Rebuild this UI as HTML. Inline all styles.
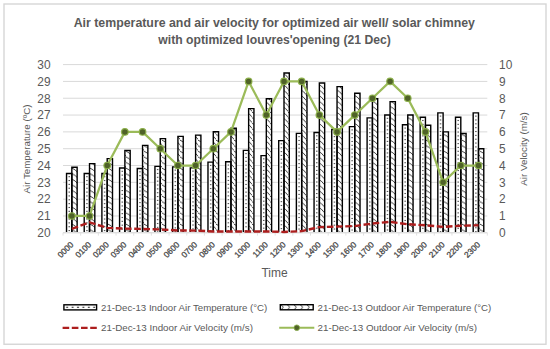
<!DOCTYPE html>
<html><head><meta charset="utf-8"><style>
html,body{margin:0;padding:0;background:#fff;}
body{width:550px;height:349px;overflow:hidden;font-family:"Liberation Sans", sans-serif;}
svg{display:block;}
</style></head><body>
<svg width="550" height="349" viewBox="0 0 550 349" font-family='"Liberation Sans", sans-serif'><defs>
<pattern id="pin" patternUnits="userSpaceOnUse" x="0" y="0" width="17.68" height="3.85">
<rect width="17.68" height="3.85" fill="#fff"/>
</pattern>
<pattern id="pout" patternUnits="userSpaceOnUse" x="0" y="0" width="6" height="5.6">
<rect width="6" height="5.6" fill="#fff"/>
<path d="M-0.5,-0.2 Q3.5,1.2 6.5,5.4 M-0.5,5.4 Q3.5,6.8 6.5,11" stroke="#1a1a1a" stroke-width="0.85" fill="none"/>
</pattern>
<pattern id="plin" patternUnits="userSpaceOnUse" x="64.5" y="304" width="5.4" height="7">
<rect width="5.4" height="7" fill="#fff"/>
<rect x="1.7" y="2.7" width="2" height="1.3" fill="#555"/>
</pattern>
<pattern id="plout" patternUnits="userSpaceOnUse" x="280" y="304" width="6.5" height="7">
<rect width="6.5" height="7" fill="#fff"/>
<path d="M1,1 Q5,3.3 1,5.6" stroke="#222" stroke-width="0.9" fill="none"/>
</pattern>
</defs><rect x="4" y="4" width="542" height="340.25" fill="#fff" stroke="#d6d6d6" stroke-width="1.4"/>
<text x="274.3" y="27" text-anchor="middle" font-weight="bold" font-size="12.35" fill="#595959">Air temperature and air velocity for optimized air well/ solar chimney</text>
<text x="274.6" y="44.3" text-anchor="middle" font-weight="bold" font-size="12.2" fill="#595959">with optimized louvres'opening (21 Dec)</text>
<line x1="63.0" y1="215.98" x2="487.32" y2="215.98" stroke="#d9d9d9" stroke-width="1"/>
<line x1="63.0" y1="199.16" x2="487.32" y2="199.16" stroke="#d9d9d9" stroke-width="1"/>
<line x1="63.0" y1="182.34" x2="487.32" y2="182.34" stroke="#d9d9d9" stroke-width="1"/>
<line x1="63.0" y1="165.52" x2="487.32" y2="165.52" stroke="#d9d9d9" stroke-width="1"/>
<line x1="63.0" y1="148.70" x2="487.32" y2="148.70" stroke="#d9d9d9" stroke-width="1"/>
<line x1="63.0" y1="131.88" x2="487.32" y2="131.88" stroke="#d9d9d9" stroke-width="1"/>
<line x1="63.0" y1="115.06" x2="487.32" y2="115.06" stroke="#d9d9d9" stroke-width="1"/>
<line x1="63.0" y1="98.24" x2="487.32" y2="98.24" stroke="#d9d9d9" stroke-width="1"/>
<line x1="63.0" y1="81.42" x2="487.32" y2="81.42" stroke="#d9d9d9" stroke-width="1"/>
<line x1="63.0" y1="64.60" x2="487.32" y2="64.60" stroke="#d9d9d9" stroke-width="1"/>
<rect x="66.54" y="173.43" width="5.3" height="58.57" fill="url(#pin)"/>
<rect x="71.84" y="167.20" width="5.3" height="64.80" fill="url(#pout)"/>
<path d="M66.54,232.00V173.43H71.84V232.00" fill="none" stroke="#000" stroke-width="1.4"/>
<path d="M71.84,232.00V167.20H77.14V232.00" fill="none" stroke="#000" stroke-width="1.4"/>
<rect x="84.22" y="173.43" width="5.3" height="58.57" fill="url(#pin)"/>
<rect x="89.52" y="163.67" width="5.3" height="68.33" fill="url(#pout)"/>
<path d="M84.22,232.00V173.43H89.52V232.00" fill="none" stroke="#000" stroke-width="1.4"/>
<path d="M89.52,232.00V163.67H94.82V232.00" fill="none" stroke="#000" stroke-width="1.4"/>
<rect x="101.90" y="173.43" width="5.3" height="58.57" fill="url(#pin)"/>
<rect x="107.20" y="158.62" width="5.3" height="73.38" fill="url(#pout)"/>
<path d="M101.90,232.00V173.43H107.20V232.00" fill="none" stroke="#000" stroke-width="1.4"/>
<path d="M107.20,232.00V158.62H112.50V232.00" fill="none" stroke="#000" stroke-width="1.4"/>
<rect x="119.58" y="168.04" width="5.3" height="63.96" fill="url(#pin)"/>
<rect x="124.88" y="150.55" width="5.3" height="81.45" fill="url(#pout)"/>
<path d="M119.58,232.00V168.04H124.88V232.00" fill="none" stroke="#000" stroke-width="1.4"/>
<path d="M124.88,232.00V150.55H130.18V232.00" fill="none" stroke="#000" stroke-width="1.4"/>
<rect x="137.26" y="168.55" width="5.3" height="63.45" fill="url(#pin)"/>
<rect x="142.56" y="145.34" width="5.3" height="86.66" fill="url(#pout)"/>
<path d="M137.26,232.00V168.55H142.56V232.00" fill="none" stroke="#000" stroke-width="1.4"/>
<path d="M142.56,232.00V145.34H147.86V232.00" fill="none" stroke="#000" stroke-width="1.4"/>
<rect x="154.94" y="166.36" width="5.3" height="65.64" fill="url(#pin)"/>
<rect x="160.24" y="138.61" width="5.3" height="93.39" fill="url(#pout)"/>
<path d="M154.94,232.00V166.36H160.24V232.00" fill="none" stroke="#000" stroke-width="1.4"/>
<path d="M160.24,232.00V138.61H165.54V232.00" fill="none" stroke="#000" stroke-width="1.4"/>
<rect x="172.62" y="166.87" width="5.3" height="65.13" fill="url(#pin)"/>
<rect x="177.92" y="136.42" width="5.3" height="95.58" fill="url(#pout)"/>
<path d="M172.62,232.00V166.87H177.92V232.00" fill="none" stroke="#000" stroke-width="1.4"/>
<path d="M177.92,232.00V136.42H183.22V232.00" fill="none" stroke="#000" stroke-width="1.4"/>
<rect x="190.30" y="167.87" width="5.3" height="64.13" fill="url(#pin)"/>
<rect x="195.60" y="135.08" width="5.3" height="96.92" fill="url(#pout)"/>
<path d="M190.30,232.00V167.87H195.60V232.00" fill="none" stroke="#000" stroke-width="1.4"/>
<path d="M195.60,232.00V135.08H200.90V232.00" fill="none" stroke="#000" stroke-width="1.4"/>
<rect x="207.98" y="162.16" width="5.3" height="69.84" fill="url(#pin)"/>
<rect x="213.28" y="131.71" width="5.3" height="100.29" fill="url(#pout)"/>
<path d="M207.98,232.00V162.16H213.28V232.00" fill="none" stroke="#000" stroke-width="1.4"/>
<path d="M213.28,232.00V131.71H218.58V232.00" fill="none" stroke="#000" stroke-width="1.4"/>
<rect x="225.66" y="161.82" width="5.3" height="70.18" fill="url(#pin)"/>
<rect x="230.96" y="128.18" width="5.3" height="103.82" fill="url(#pout)"/>
<path d="M225.66,232.00V161.82H230.96V232.00" fill="none" stroke="#000" stroke-width="1.4"/>
<path d="M230.96,232.00V128.18H236.26V232.00" fill="none" stroke="#000" stroke-width="1.4"/>
<rect x="243.34" y="150.38" width="5.3" height="81.62" fill="url(#pin)"/>
<rect x="248.64" y="108.67" width="5.3" height="123.33" fill="url(#pout)"/>
<path d="M243.34,232.00V150.38H248.64V232.00" fill="none" stroke="#000" stroke-width="1.4"/>
<path d="M248.64,232.00V108.67H253.94V232.00" fill="none" stroke="#000" stroke-width="1.4"/>
<rect x="261.02" y="155.60" width="5.3" height="76.40" fill="url(#pin)"/>
<rect x="266.32" y="98.74" width="5.3" height="133.26" fill="url(#pout)"/>
<path d="M261.02,232.00V155.60H266.32V232.00" fill="none" stroke="#000" stroke-width="1.4"/>
<path d="M266.32,232.00V98.74H271.62V232.00" fill="none" stroke="#000" stroke-width="1.4"/>
<rect x="278.70" y="140.63" width="5.3" height="91.37" fill="url(#pin)"/>
<rect x="284.00" y="73.01" width="5.3" height="158.99" fill="url(#pout)"/>
<path d="M278.70,232.00V140.63H284.00V232.00" fill="none" stroke="#000" stroke-width="1.4"/>
<path d="M284.00,232.00V73.01H289.30V232.00" fill="none" stroke="#000" stroke-width="1.4"/>
<rect x="296.38" y="133.39" width="5.3" height="98.61" fill="url(#pin)"/>
<rect x="301.68" y="81.42" width="5.3" height="150.58" fill="url(#pout)"/>
<path d="M296.38,232.00V133.39H301.68V232.00" fill="none" stroke="#000" stroke-width="1.4"/>
<path d="M301.68,232.00V81.42H306.98V232.00" fill="none" stroke="#000" stroke-width="1.4"/>
<rect x="314.06" y="132.55" width="5.3" height="99.45" fill="url(#pin)"/>
<rect x="319.36" y="82.93" width="5.3" height="149.07" fill="url(#pout)"/>
<path d="M314.06,232.00V132.55H319.36V232.00" fill="none" stroke="#000" stroke-width="1.4"/>
<path d="M319.36,232.00V82.93H324.66V232.00" fill="none" stroke="#000" stroke-width="1.4"/>
<rect x="331.74" y="129.53" width="5.3" height="102.47" fill="url(#pin)"/>
<rect x="337.04" y="86.63" width="5.3" height="145.37" fill="url(#pout)"/>
<path d="M331.74,232.00V129.53H337.04V232.00" fill="none" stroke="#000" stroke-width="1.4"/>
<path d="M337.04,232.00V86.63H342.34V232.00" fill="none" stroke="#000" stroke-width="1.4"/>
<rect x="349.42" y="126.67" width="5.3" height="105.33" fill="url(#pin)"/>
<rect x="354.72" y="93.19" width="5.3" height="138.81" fill="url(#pout)"/>
<path d="M349.42,232.00V126.67H354.72V232.00" fill="none" stroke="#000" stroke-width="1.4"/>
<path d="M354.72,232.00V93.19H360.02V232.00" fill="none" stroke="#000" stroke-width="1.4"/>
<rect x="367.10" y="117.92" width="5.3" height="114.08" fill="url(#pin)"/>
<rect x="372.40" y="98.74" width="5.3" height="133.26" fill="url(#pout)"/>
<path d="M367.10,232.00V117.92H372.40V232.00" fill="none" stroke="#000" stroke-width="1.4"/>
<path d="M372.40,232.00V98.74H377.70V232.00" fill="none" stroke="#000" stroke-width="1.4"/>
<rect x="384.78" y="115.06" width="5.3" height="116.94" fill="url(#pin)"/>
<rect x="390.08" y="101.60" width="5.3" height="130.40" fill="url(#pout)"/>
<path d="M384.78,232.00V115.06H390.08V232.00" fill="none" stroke="#000" stroke-width="1.4"/>
<path d="M390.08,232.00V101.60H395.38V232.00" fill="none" stroke="#000" stroke-width="1.4"/>
<rect x="402.46" y="124.82" width="5.3" height="107.18" fill="url(#pin)"/>
<rect x="407.76" y="115.06" width="5.3" height="116.94" fill="url(#pout)"/>
<path d="M402.46,232.00V124.82H407.76V232.00" fill="none" stroke="#000" stroke-width="1.4"/>
<path d="M407.76,232.00V115.06H413.06V232.00" fill="none" stroke="#000" stroke-width="1.4"/>
<rect x="420.14" y="117.25" width="5.3" height="114.75" fill="url(#pin)"/>
<rect x="425.44" y="125.32" width="5.3" height="106.68" fill="url(#pout)"/>
<path d="M420.14,232.00V117.25H425.44V232.00" fill="none" stroke="#000" stroke-width="1.4"/>
<path d="M425.44,232.00V125.32H430.74V232.00" fill="none" stroke="#000" stroke-width="1.4"/>
<rect x="437.82" y="112.87" width="5.3" height="119.13" fill="url(#pin)"/>
<rect x="443.12" y="131.88" width="5.3" height="100.12" fill="url(#pout)"/>
<path d="M437.82,232.00V112.87H443.12V232.00" fill="none" stroke="#000" stroke-width="1.4"/>
<path d="M443.12,232.00V131.88H448.42V232.00" fill="none" stroke="#000" stroke-width="1.4"/>
<rect x="455.50" y="117.25" width="5.3" height="114.75" fill="url(#pin)"/>
<rect x="460.80" y="133.56" width="5.3" height="98.44" fill="url(#pout)"/>
<path d="M455.50,232.00V117.25H460.80V232.00" fill="none" stroke="#000" stroke-width="1.4"/>
<path d="M460.80,232.00V133.56H466.10V232.00" fill="none" stroke="#000" stroke-width="1.4"/>
<rect x="473.18" y="112.87" width="5.3" height="119.13" fill="url(#pin)"/>
<rect x="478.48" y="148.70" width="5.3" height="83.30" fill="url(#pout)"/>
<path d="M473.18,232.00V112.87H478.48V232.00" fill="none" stroke="#000" stroke-width="1.4"/>
<path d="M478.48,232.00V148.70H483.78V232.00" fill="none" stroke="#000" stroke-width="1.4"/>
<rect x="68.49" y="176.13" width="1.5" height="1.1" fill="#555"/>
<rect x="68.49" y="179.98" width="1.5" height="1.1" fill="#555"/>
<rect x="68.49" y="183.83" width="1.5" height="1.1" fill="#555"/>
<rect x="68.49" y="187.68" width="1.5" height="1.1" fill="#555"/>
<rect x="68.49" y="191.53" width="1.5" height="1.1" fill="#555"/>
<rect x="68.49" y="195.38" width="1.5" height="1.1" fill="#555"/>
<rect x="68.49" y="199.23" width="1.5" height="1.1" fill="#555"/>
<rect x="68.49" y="203.08" width="1.5" height="1.1" fill="#555"/>
<rect x="68.49" y="206.93" width="1.5" height="1.1" fill="#555"/>
<rect x="68.49" y="210.78" width="1.5" height="1.1" fill="#555"/>
<rect x="68.49" y="214.63" width="1.5" height="1.1" fill="#555"/>
<rect x="68.49" y="218.48" width="1.5" height="1.1" fill="#555"/>
<rect x="68.49" y="222.33" width="1.5" height="1.1" fill="#555"/>
<rect x="68.49" y="226.18" width="1.5" height="1.1" fill="#555"/>
<rect x="68.49" y="230.03" width="1.5" height="1.1" fill="#555"/>
<rect x="86.17" y="176.13" width="1.5" height="1.1" fill="#555"/>
<rect x="86.17" y="179.98" width="1.5" height="1.1" fill="#555"/>
<rect x="86.17" y="183.83" width="1.5" height="1.1" fill="#555"/>
<rect x="86.17" y="187.68" width="1.5" height="1.1" fill="#555"/>
<rect x="86.17" y="191.53" width="1.5" height="1.1" fill="#555"/>
<rect x="86.17" y="195.38" width="1.5" height="1.1" fill="#555"/>
<rect x="86.17" y="199.23" width="1.5" height="1.1" fill="#555"/>
<rect x="86.17" y="203.08" width="1.5" height="1.1" fill="#555"/>
<rect x="86.17" y="206.93" width="1.5" height="1.1" fill="#555"/>
<rect x="86.17" y="210.78" width="1.5" height="1.1" fill="#555"/>
<rect x="86.17" y="214.63" width="1.5" height="1.1" fill="#555"/>
<rect x="86.17" y="218.48" width="1.5" height="1.1" fill="#555"/>
<rect x="86.17" y="222.33" width="1.5" height="1.1" fill="#555"/>
<rect x="86.17" y="226.18" width="1.5" height="1.1" fill="#555"/>
<rect x="86.17" y="230.03" width="1.5" height="1.1" fill="#555"/>
<rect x="103.85" y="176.13" width="1.5" height="1.1" fill="#555"/>
<rect x="103.85" y="179.98" width="1.5" height="1.1" fill="#555"/>
<rect x="103.85" y="183.83" width="1.5" height="1.1" fill="#555"/>
<rect x="103.85" y="187.68" width="1.5" height="1.1" fill="#555"/>
<rect x="103.85" y="191.53" width="1.5" height="1.1" fill="#555"/>
<rect x="103.85" y="195.38" width="1.5" height="1.1" fill="#555"/>
<rect x="103.85" y="199.23" width="1.5" height="1.1" fill="#555"/>
<rect x="103.85" y="203.08" width="1.5" height="1.1" fill="#555"/>
<rect x="103.85" y="206.93" width="1.5" height="1.1" fill="#555"/>
<rect x="103.85" y="210.78" width="1.5" height="1.1" fill="#555"/>
<rect x="103.85" y="214.63" width="1.5" height="1.1" fill="#555"/>
<rect x="103.85" y="218.48" width="1.5" height="1.1" fill="#555"/>
<rect x="103.85" y="222.33" width="1.5" height="1.1" fill="#555"/>
<rect x="103.85" y="226.18" width="1.5" height="1.1" fill="#555"/>
<rect x="103.85" y="230.03" width="1.5" height="1.1" fill="#555"/>
<rect x="121.53" y="170.74" width="1.5" height="1.1" fill="#555"/>
<rect x="121.53" y="174.59" width="1.5" height="1.1" fill="#555"/>
<rect x="121.53" y="178.44" width="1.5" height="1.1" fill="#555"/>
<rect x="121.53" y="182.29" width="1.5" height="1.1" fill="#555"/>
<rect x="121.53" y="186.14" width="1.5" height="1.1" fill="#555"/>
<rect x="121.53" y="189.99" width="1.5" height="1.1" fill="#555"/>
<rect x="121.53" y="193.84" width="1.5" height="1.1" fill="#555"/>
<rect x="121.53" y="197.69" width="1.5" height="1.1" fill="#555"/>
<rect x="121.53" y="201.54" width="1.5" height="1.1" fill="#555"/>
<rect x="121.53" y="205.39" width="1.5" height="1.1" fill="#555"/>
<rect x="121.53" y="209.24" width="1.5" height="1.1" fill="#555"/>
<rect x="121.53" y="213.09" width="1.5" height="1.1" fill="#555"/>
<rect x="121.53" y="216.94" width="1.5" height="1.1" fill="#555"/>
<rect x="121.53" y="220.79" width="1.5" height="1.1" fill="#555"/>
<rect x="121.53" y="224.64" width="1.5" height="1.1" fill="#555"/>
<rect x="121.53" y="228.49" width="1.5" height="1.1" fill="#555"/>
<rect x="139.21" y="171.25" width="1.5" height="1.1" fill="#555"/>
<rect x="139.21" y="175.10" width="1.5" height="1.1" fill="#555"/>
<rect x="139.21" y="178.95" width="1.5" height="1.1" fill="#555"/>
<rect x="139.21" y="182.80" width="1.5" height="1.1" fill="#555"/>
<rect x="139.21" y="186.65" width="1.5" height="1.1" fill="#555"/>
<rect x="139.21" y="190.50" width="1.5" height="1.1" fill="#555"/>
<rect x="139.21" y="194.35" width="1.5" height="1.1" fill="#555"/>
<rect x="139.21" y="198.20" width="1.5" height="1.1" fill="#555"/>
<rect x="139.21" y="202.05" width="1.5" height="1.1" fill="#555"/>
<rect x="139.21" y="205.90" width="1.5" height="1.1" fill="#555"/>
<rect x="139.21" y="209.75" width="1.5" height="1.1" fill="#555"/>
<rect x="139.21" y="213.60" width="1.5" height="1.1" fill="#555"/>
<rect x="139.21" y="217.45" width="1.5" height="1.1" fill="#555"/>
<rect x="139.21" y="221.30" width="1.5" height="1.1" fill="#555"/>
<rect x="139.21" y="225.15" width="1.5" height="1.1" fill="#555"/>
<rect x="139.21" y="229.00" width="1.5" height="1.1" fill="#555"/>
<rect x="156.89" y="169.06" width="1.5" height="1.1" fill="#555"/>
<rect x="156.89" y="172.91" width="1.5" height="1.1" fill="#555"/>
<rect x="156.89" y="176.76" width="1.5" height="1.1" fill="#555"/>
<rect x="156.89" y="180.61" width="1.5" height="1.1" fill="#555"/>
<rect x="156.89" y="184.46" width="1.5" height="1.1" fill="#555"/>
<rect x="156.89" y="188.31" width="1.5" height="1.1" fill="#555"/>
<rect x="156.89" y="192.16" width="1.5" height="1.1" fill="#555"/>
<rect x="156.89" y="196.01" width="1.5" height="1.1" fill="#555"/>
<rect x="156.89" y="199.86" width="1.5" height="1.1" fill="#555"/>
<rect x="156.89" y="203.71" width="1.5" height="1.1" fill="#555"/>
<rect x="156.89" y="207.56" width="1.5" height="1.1" fill="#555"/>
<rect x="156.89" y="211.41" width="1.5" height="1.1" fill="#555"/>
<rect x="156.89" y="215.26" width="1.5" height="1.1" fill="#555"/>
<rect x="156.89" y="219.11" width="1.5" height="1.1" fill="#555"/>
<rect x="156.89" y="222.96" width="1.5" height="1.1" fill="#555"/>
<rect x="156.89" y="226.81" width="1.5" height="1.1" fill="#555"/>
<rect x="156.89" y="230.66" width="1.5" height="1.1" fill="#555"/>
<rect x="174.57" y="169.57" width="1.5" height="1.1" fill="#555"/>
<rect x="174.57" y="173.42" width="1.5" height="1.1" fill="#555"/>
<rect x="174.57" y="177.27" width="1.5" height="1.1" fill="#555"/>
<rect x="174.57" y="181.12" width="1.5" height="1.1" fill="#555"/>
<rect x="174.57" y="184.97" width="1.5" height="1.1" fill="#555"/>
<rect x="174.57" y="188.82" width="1.5" height="1.1" fill="#555"/>
<rect x="174.57" y="192.67" width="1.5" height="1.1" fill="#555"/>
<rect x="174.57" y="196.52" width="1.5" height="1.1" fill="#555"/>
<rect x="174.57" y="200.37" width="1.5" height="1.1" fill="#555"/>
<rect x="174.57" y="204.22" width="1.5" height="1.1" fill="#555"/>
<rect x="174.57" y="208.07" width="1.5" height="1.1" fill="#555"/>
<rect x="174.57" y="211.92" width="1.5" height="1.1" fill="#555"/>
<rect x="174.57" y="215.77" width="1.5" height="1.1" fill="#555"/>
<rect x="174.57" y="219.62" width="1.5" height="1.1" fill="#555"/>
<rect x="174.57" y="223.47" width="1.5" height="1.1" fill="#555"/>
<rect x="174.57" y="227.32" width="1.5" height="1.1" fill="#555"/>
<rect x="174.57" y="231.17" width="1.5" height="1.1" fill="#555"/>
<rect x="192.25" y="170.57" width="1.5" height="1.1" fill="#555"/>
<rect x="192.25" y="174.42" width="1.5" height="1.1" fill="#555"/>
<rect x="192.25" y="178.27" width="1.5" height="1.1" fill="#555"/>
<rect x="192.25" y="182.12" width="1.5" height="1.1" fill="#555"/>
<rect x="192.25" y="185.97" width="1.5" height="1.1" fill="#555"/>
<rect x="192.25" y="189.82" width="1.5" height="1.1" fill="#555"/>
<rect x="192.25" y="193.67" width="1.5" height="1.1" fill="#555"/>
<rect x="192.25" y="197.52" width="1.5" height="1.1" fill="#555"/>
<rect x="192.25" y="201.37" width="1.5" height="1.1" fill="#555"/>
<rect x="192.25" y="205.22" width="1.5" height="1.1" fill="#555"/>
<rect x="192.25" y="209.07" width="1.5" height="1.1" fill="#555"/>
<rect x="192.25" y="212.92" width="1.5" height="1.1" fill="#555"/>
<rect x="192.25" y="216.77" width="1.5" height="1.1" fill="#555"/>
<rect x="192.25" y="220.62" width="1.5" height="1.1" fill="#555"/>
<rect x="192.25" y="224.47" width="1.5" height="1.1" fill="#555"/>
<rect x="192.25" y="228.32" width="1.5" height="1.1" fill="#555"/>
<rect x="209.93" y="164.86" width="1.5" height="1.1" fill="#555"/>
<rect x="209.93" y="168.71" width="1.5" height="1.1" fill="#555"/>
<rect x="209.93" y="172.56" width="1.5" height="1.1" fill="#555"/>
<rect x="209.93" y="176.41" width="1.5" height="1.1" fill="#555"/>
<rect x="209.93" y="180.26" width="1.5" height="1.1" fill="#555"/>
<rect x="209.93" y="184.11" width="1.5" height="1.1" fill="#555"/>
<rect x="209.93" y="187.96" width="1.5" height="1.1" fill="#555"/>
<rect x="209.93" y="191.81" width="1.5" height="1.1" fill="#555"/>
<rect x="209.93" y="195.66" width="1.5" height="1.1" fill="#555"/>
<rect x="209.93" y="199.51" width="1.5" height="1.1" fill="#555"/>
<rect x="209.93" y="203.36" width="1.5" height="1.1" fill="#555"/>
<rect x="209.93" y="207.21" width="1.5" height="1.1" fill="#555"/>
<rect x="209.93" y="211.06" width="1.5" height="1.1" fill="#555"/>
<rect x="209.93" y="214.91" width="1.5" height="1.1" fill="#555"/>
<rect x="209.93" y="218.76" width="1.5" height="1.1" fill="#555"/>
<rect x="209.93" y="222.61" width="1.5" height="1.1" fill="#555"/>
<rect x="209.93" y="226.46" width="1.5" height="1.1" fill="#555"/>
<rect x="209.93" y="230.31" width="1.5" height="1.1" fill="#555"/>
<rect x="227.61" y="164.52" width="1.5" height="1.1" fill="#555"/>
<rect x="227.61" y="168.37" width="1.5" height="1.1" fill="#555"/>
<rect x="227.61" y="172.22" width="1.5" height="1.1" fill="#555"/>
<rect x="227.61" y="176.07" width="1.5" height="1.1" fill="#555"/>
<rect x="227.61" y="179.92" width="1.5" height="1.1" fill="#555"/>
<rect x="227.61" y="183.77" width="1.5" height="1.1" fill="#555"/>
<rect x="227.61" y="187.62" width="1.5" height="1.1" fill="#555"/>
<rect x="227.61" y="191.47" width="1.5" height="1.1" fill="#555"/>
<rect x="227.61" y="195.32" width="1.5" height="1.1" fill="#555"/>
<rect x="227.61" y="199.17" width="1.5" height="1.1" fill="#555"/>
<rect x="227.61" y="203.02" width="1.5" height="1.1" fill="#555"/>
<rect x="227.61" y="206.87" width="1.5" height="1.1" fill="#555"/>
<rect x="227.61" y="210.72" width="1.5" height="1.1" fill="#555"/>
<rect x="227.61" y="214.57" width="1.5" height="1.1" fill="#555"/>
<rect x="227.61" y="218.42" width="1.5" height="1.1" fill="#555"/>
<rect x="227.61" y="222.27" width="1.5" height="1.1" fill="#555"/>
<rect x="227.61" y="226.12" width="1.5" height="1.1" fill="#555"/>
<rect x="227.61" y="229.97" width="1.5" height="1.1" fill="#555"/>
<rect x="245.29" y="153.08" width="1.5" height="1.1" fill="#555"/>
<rect x="245.29" y="156.93" width="1.5" height="1.1" fill="#555"/>
<rect x="245.29" y="160.78" width="1.5" height="1.1" fill="#555"/>
<rect x="245.29" y="164.63" width="1.5" height="1.1" fill="#555"/>
<rect x="245.29" y="168.48" width="1.5" height="1.1" fill="#555"/>
<rect x="245.29" y="172.33" width="1.5" height="1.1" fill="#555"/>
<rect x="245.29" y="176.18" width="1.5" height="1.1" fill="#555"/>
<rect x="245.29" y="180.03" width="1.5" height="1.1" fill="#555"/>
<rect x="245.29" y="183.88" width="1.5" height="1.1" fill="#555"/>
<rect x="245.29" y="187.73" width="1.5" height="1.1" fill="#555"/>
<rect x="245.29" y="191.58" width="1.5" height="1.1" fill="#555"/>
<rect x="245.29" y="195.43" width="1.5" height="1.1" fill="#555"/>
<rect x="245.29" y="199.28" width="1.5" height="1.1" fill="#555"/>
<rect x="245.29" y="203.13" width="1.5" height="1.1" fill="#555"/>
<rect x="245.29" y="206.98" width="1.5" height="1.1" fill="#555"/>
<rect x="245.29" y="210.83" width="1.5" height="1.1" fill="#555"/>
<rect x="245.29" y="214.68" width="1.5" height="1.1" fill="#555"/>
<rect x="245.29" y="218.53" width="1.5" height="1.1" fill="#555"/>
<rect x="245.29" y="222.38" width="1.5" height="1.1" fill="#555"/>
<rect x="245.29" y="226.23" width="1.5" height="1.1" fill="#555"/>
<rect x="245.29" y="230.08" width="1.5" height="1.1" fill="#555"/>
<rect x="262.97" y="158.30" width="1.5" height="1.1" fill="#555"/>
<rect x="262.97" y="162.15" width="1.5" height="1.1" fill="#555"/>
<rect x="262.97" y="166.00" width="1.5" height="1.1" fill="#555"/>
<rect x="262.97" y="169.85" width="1.5" height="1.1" fill="#555"/>
<rect x="262.97" y="173.70" width="1.5" height="1.1" fill="#555"/>
<rect x="262.97" y="177.55" width="1.5" height="1.1" fill="#555"/>
<rect x="262.97" y="181.40" width="1.5" height="1.1" fill="#555"/>
<rect x="262.97" y="185.25" width="1.5" height="1.1" fill="#555"/>
<rect x="262.97" y="189.10" width="1.5" height="1.1" fill="#555"/>
<rect x="262.97" y="192.95" width="1.5" height="1.1" fill="#555"/>
<rect x="262.97" y="196.80" width="1.5" height="1.1" fill="#555"/>
<rect x="262.97" y="200.65" width="1.5" height="1.1" fill="#555"/>
<rect x="262.97" y="204.50" width="1.5" height="1.1" fill="#555"/>
<rect x="262.97" y="208.35" width="1.5" height="1.1" fill="#555"/>
<rect x="262.97" y="212.20" width="1.5" height="1.1" fill="#555"/>
<rect x="262.97" y="216.05" width="1.5" height="1.1" fill="#555"/>
<rect x="262.97" y="219.90" width="1.5" height="1.1" fill="#555"/>
<rect x="262.97" y="223.75" width="1.5" height="1.1" fill="#555"/>
<rect x="262.97" y="227.60" width="1.5" height="1.1" fill="#555"/>
<rect x="280.65" y="143.33" width="1.5" height="1.1" fill="#555"/>
<rect x="280.65" y="147.18" width="1.5" height="1.1" fill="#555"/>
<rect x="280.65" y="151.03" width="1.5" height="1.1" fill="#555"/>
<rect x="280.65" y="154.88" width="1.5" height="1.1" fill="#555"/>
<rect x="280.65" y="158.73" width="1.5" height="1.1" fill="#555"/>
<rect x="280.65" y="162.58" width="1.5" height="1.1" fill="#555"/>
<rect x="280.65" y="166.43" width="1.5" height="1.1" fill="#555"/>
<rect x="280.65" y="170.28" width="1.5" height="1.1" fill="#555"/>
<rect x="280.65" y="174.13" width="1.5" height="1.1" fill="#555"/>
<rect x="280.65" y="177.98" width="1.5" height="1.1" fill="#555"/>
<rect x="280.65" y="181.83" width="1.5" height="1.1" fill="#555"/>
<rect x="280.65" y="185.68" width="1.5" height="1.1" fill="#555"/>
<rect x="280.65" y="189.53" width="1.5" height="1.1" fill="#555"/>
<rect x="280.65" y="193.38" width="1.5" height="1.1" fill="#555"/>
<rect x="280.65" y="197.23" width="1.5" height="1.1" fill="#555"/>
<rect x="280.65" y="201.08" width="1.5" height="1.1" fill="#555"/>
<rect x="280.65" y="204.93" width="1.5" height="1.1" fill="#555"/>
<rect x="280.65" y="208.78" width="1.5" height="1.1" fill="#555"/>
<rect x="280.65" y="212.63" width="1.5" height="1.1" fill="#555"/>
<rect x="280.65" y="216.48" width="1.5" height="1.1" fill="#555"/>
<rect x="280.65" y="220.33" width="1.5" height="1.1" fill="#555"/>
<rect x="280.65" y="224.18" width="1.5" height="1.1" fill="#555"/>
<rect x="280.65" y="228.03" width="1.5" height="1.1" fill="#555"/>
<rect x="298.33" y="136.09" width="1.5" height="1.1" fill="#555"/>
<rect x="298.33" y="139.94" width="1.5" height="1.1" fill="#555"/>
<rect x="298.33" y="143.79" width="1.5" height="1.1" fill="#555"/>
<rect x="298.33" y="147.64" width="1.5" height="1.1" fill="#555"/>
<rect x="298.33" y="151.49" width="1.5" height="1.1" fill="#555"/>
<rect x="298.33" y="155.34" width="1.5" height="1.1" fill="#555"/>
<rect x="298.33" y="159.19" width="1.5" height="1.1" fill="#555"/>
<rect x="298.33" y="163.04" width="1.5" height="1.1" fill="#555"/>
<rect x="298.33" y="166.89" width="1.5" height="1.1" fill="#555"/>
<rect x="298.33" y="170.74" width="1.5" height="1.1" fill="#555"/>
<rect x="298.33" y="174.59" width="1.5" height="1.1" fill="#555"/>
<rect x="298.33" y="178.44" width="1.5" height="1.1" fill="#555"/>
<rect x="298.33" y="182.29" width="1.5" height="1.1" fill="#555"/>
<rect x="298.33" y="186.14" width="1.5" height="1.1" fill="#555"/>
<rect x="298.33" y="189.99" width="1.5" height="1.1" fill="#555"/>
<rect x="298.33" y="193.84" width="1.5" height="1.1" fill="#555"/>
<rect x="298.33" y="197.69" width="1.5" height="1.1" fill="#555"/>
<rect x="298.33" y="201.54" width="1.5" height="1.1" fill="#555"/>
<rect x="298.33" y="205.39" width="1.5" height="1.1" fill="#555"/>
<rect x="298.33" y="209.24" width="1.5" height="1.1" fill="#555"/>
<rect x="298.33" y="213.09" width="1.5" height="1.1" fill="#555"/>
<rect x="298.33" y="216.94" width="1.5" height="1.1" fill="#555"/>
<rect x="298.33" y="220.79" width="1.5" height="1.1" fill="#555"/>
<rect x="298.33" y="224.64" width="1.5" height="1.1" fill="#555"/>
<rect x="298.33" y="228.49" width="1.5" height="1.1" fill="#555"/>
<rect x="316.01" y="135.25" width="1.5" height="1.1" fill="#555"/>
<rect x="316.01" y="139.10" width="1.5" height="1.1" fill="#555"/>
<rect x="316.01" y="142.95" width="1.5" height="1.1" fill="#555"/>
<rect x="316.01" y="146.80" width="1.5" height="1.1" fill="#555"/>
<rect x="316.01" y="150.65" width="1.5" height="1.1" fill="#555"/>
<rect x="316.01" y="154.50" width="1.5" height="1.1" fill="#555"/>
<rect x="316.01" y="158.35" width="1.5" height="1.1" fill="#555"/>
<rect x="316.01" y="162.20" width="1.5" height="1.1" fill="#555"/>
<rect x="316.01" y="166.05" width="1.5" height="1.1" fill="#555"/>
<rect x="316.01" y="169.90" width="1.5" height="1.1" fill="#555"/>
<rect x="316.01" y="173.75" width="1.5" height="1.1" fill="#555"/>
<rect x="316.01" y="177.60" width="1.5" height="1.1" fill="#555"/>
<rect x="316.01" y="181.45" width="1.5" height="1.1" fill="#555"/>
<rect x="316.01" y="185.30" width="1.5" height="1.1" fill="#555"/>
<rect x="316.01" y="189.15" width="1.5" height="1.1" fill="#555"/>
<rect x="316.01" y="193.00" width="1.5" height="1.1" fill="#555"/>
<rect x="316.01" y="196.85" width="1.5" height="1.1" fill="#555"/>
<rect x="316.01" y="200.70" width="1.5" height="1.1" fill="#555"/>
<rect x="316.01" y="204.55" width="1.5" height="1.1" fill="#555"/>
<rect x="316.01" y="208.40" width="1.5" height="1.1" fill="#555"/>
<rect x="316.01" y="212.25" width="1.5" height="1.1" fill="#555"/>
<rect x="316.01" y="216.10" width="1.5" height="1.1" fill="#555"/>
<rect x="316.01" y="219.95" width="1.5" height="1.1" fill="#555"/>
<rect x="316.01" y="223.80" width="1.5" height="1.1" fill="#555"/>
<rect x="316.01" y="227.65" width="1.5" height="1.1" fill="#555"/>
<rect x="333.69" y="132.23" width="1.5" height="1.1" fill="#555"/>
<rect x="333.69" y="136.08" width="1.5" height="1.1" fill="#555"/>
<rect x="333.69" y="139.93" width="1.5" height="1.1" fill="#555"/>
<rect x="333.69" y="143.78" width="1.5" height="1.1" fill="#555"/>
<rect x="333.69" y="147.63" width="1.5" height="1.1" fill="#555"/>
<rect x="333.69" y="151.48" width="1.5" height="1.1" fill="#555"/>
<rect x="333.69" y="155.33" width="1.5" height="1.1" fill="#555"/>
<rect x="333.69" y="159.18" width="1.5" height="1.1" fill="#555"/>
<rect x="333.69" y="163.03" width="1.5" height="1.1" fill="#555"/>
<rect x="333.69" y="166.88" width="1.5" height="1.1" fill="#555"/>
<rect x="333.69" y="170.73" width="1.5" height="1.1" fill="#555"/>
<rect x="333.69" y="174.58" width="1.5" height="1.1" fill="#555"/>
<rect x="333.69" y="178.43" width="1.5" height="1.1" fill="#555"/>
<rect x="333.69" y="182.28" width="1.5" height="1.1" fill="#555"/>
<rect x="333.69" y="186.13" width="1.5" height="1.1" fill="#555"/>
<rect x="333.69" y="189.98" width="1.5" height="1.1" fill="#555"/>
<rect x="333.69" y="193.83" width="1.5" height="1.1" fill="#555"/>
<rect x="333.69" y="197.68" width="1.5" height="1.1" fill="#555"/>
<rect x="333.69" y="201.53" width="1.5" height="1.1" fill="#555"/>
<rect x="333.69" y="205.38" width="1.5" height="1.1" fill="#555"/>
<rect x="333.69" y="209.23" width="1.5" height="1.1" fill="#555"/>
<rect x="333.69" y="213.08" width="1.5" height="1.1" fill="#555"/>
<rect x="333.69" y="216.93" width="1.5" height="1.1" fill="#555"/>
<rect x="333.69" y="220.78" width="1.5" height="1.1" fill="#555"/>
<rect x="333.69" y="224.63" width="1.5" height="1.1" fill="#555"/>
<rect x="333.69" y="228.48" width="1.5" height="1.1" fill="#555"/>
<rect x="351.37" y="129.37" width="1.5" height="1.1" fill="#555"/>
<rect x="351.37" y="133.22" width="1.5" height="1.1" fill="#555"/>
<rect x="351.37" y="137.07" width="1.5" height="1.1" fill="#555"/>
<rect x="351.37" y="140.92" width="1.5" height="1.1" fill="#555"/>
<rect x="351.37" y="144.77" width="1.5" height="1.1" fill="#555"/>
<rect x="351.37" y="148.62" width="1.5" height="1.1" fill="#555"/>
<rect x="351.37" y="152.47" width="1.5" height="1.1" fill="#555"/>
<rect x="351.37" y="156.32" width="1.5" height="1.1" fill="#555"/>
<rect x="351.37" y="160.17" width="1.5" height="1.1" fill="#555"/>
<rect x="351.37" y="164.02" width="1.5" height="1.1" fill="#555"/>
<rect x="351.37" y="167.87" width="1.5" height="1.1" fill="#555"/>
<rect x="351.37" y="171.72" width="1.5" height="1.1" fill="#555"/>
<rect x="351.37" y="175.57" width="1.5" height="1.1" fill="#555"/>
<rect x="351.37" y="179.42" width="1.5" height="1.1" fill="#555"/>
<rect x="351.37" y="183.27" width="1.5" height="1.1" fill="#555"/>
<rect x="351.37" y="187.12" width="1.5" height="1.1" fill="#555"/>
<rect x="351.37" y="190.97" width="1.5" height="1.1" fill="#555"/>
<rect x="351.37" y="194.82" width="1.5" height="1.1" fill="#555"/>
<rect x="351.37" y="198.67" width="1.5" height="1.1" fill="#555"/>
<rect x="351.37" y="202.52" width="1.5" height="1.1" fill="#555"/>
<rect x="351.37" y="206.37" width="1.5" height="1.1" fill="#555"/>
<rect x="351.37" y="210.22" width="1.5" height="1.1" fill="#555"/>
<rect x="351.37" y="214.07" width="1.5" height="1.1" fill="#555"/>
<rect x="351.37" y="217.92" width="1.5" height="1.1" fill="#555"/>
<rect x="351.37" y="221.77" width="1.5" height="1.1" fill="#555"/>
<rect x="351.37" y="225.62" width="1.5" height="1.1" fill="#555"/>
<rect x="351.37" y="229.47" width="1.5" height="1.1" fill="#555"/>
<rect x="369.05" y="120.62" width="1.5" height="1.1" fill="#555"/>
<rect x="369.05" y="124.47" width="1.5" height="1.1" fill="#555"/>
<rect x="369.05" y="128.32" width="1.5" height="1.1" fill="#555"/>
<rect x="369.05" y="132.17" width="1.5" height="1.1" fill="#555"/>
<rect x="369.05" y="136.02" width="1.5" height="1.1" fill="#555"/>
<rect x="369.05" y="139.87" width="1.5" height="1.1" fill="#555"/>
<rect x="369.05" y="143.72" width="1.5" height="1.1" fill="#555"/>
<rect x="369.05" y="147.57" width="1.5" height="1.1" fill="#555"/>
<rect x="369.05" y="151.42" width="1.5" height="1.1" fill="#555"/>
<rect x="369.05" y="155.27" width="1.5" height="1.1" fill="#555"/>
<rect x="369.05" y="159.12" width="1.5" height="1.1" fill="#555"/>
<rect x="369.05" y="162.97" width="1.5" height="1.1" fill="#555"/>
<rect x="369.05" y="166.82" width="1.5" height="1.1" fill="#555"/>
<rect x="369.05" y="170.67" width="1.5" height="1.1" fill="#555"/>
<rect x="369.05" y="174.52" width="1.5" height="1.1" fill="#555"/>
<rect x="369.05" y="178.37" width="1.5" height="1.1" fill="#555"/>
<rect x="369.05" y="182.22" width="1.5" height="1.1" fill="#555"/>
<rect x="369.05" y="186.07" width="1.5" height="1.1" fill="#555"/>
<rect x="369.05" y="189.92" width="1.5" height="1.1" fill="#555"/>
<rect x="369.05" y="193.77" width="1.5" height="1.1" fill="#555"/>
<rect x="369.05" y="197.62" width="1.5" height="1.1" fill="#555"/>
<rect x="369.05" y="201.47" width="1.5" height="1.1" fill="#555"/>
<rect x="369.05" y="205.32" width="1.5" height="1.1" fill="#555"/>
<rect x="369.05" y="209.17" width="1.5" height="1.1" fill="#555"/>
<rect x="369.05" y="213.02" width="1.5" height="1.1" fill="#555"/>
<rect x="369.05" y="216.87" width="1.5" height="1.1" fill="#555"/>
<rect x="369.05" y="220.72" width="1.5" height="1.1" fill="#555"/>
<rect x="369.05" y="224.57" width="1.5" height="1.1" fill="#555"/>
<rect x="369.05" y="228.42" width="1.5" height="1.1" fill="#555"/>
<rect x="386.73" y="117.76" width="1.5" height="1.1" fill="#555"/>
<rect x="386.73" y="121.61" width="1.5" height="1.1" fill="#555"/>
<rect x="386.73" y="125.46" width="1.5" height="1.1" fill="#555"/>
<rect x="386.73" y="129.31" width="1.5" height="1.1" fill="#555"/>
<rect x="386.73" y="133.16" width="1.5" height="1.1" fill="#555"/>
<rect x="386.73" y="137.01" width="1.5" height="1.1" fill="#555"/>
<rect x="386.73" y="140.86" width="1.5" height="1.1" fill="#555"/>
<rect x="386.73" y="144.71" width="1.5" height="1.1" fill="#555"/>
<rect x="386.73" y="148.56" width="1.5" height="1.1" fill="#555"/>
<rect x="386.73" y="152.41" width="1.5" height="1.1" fill="#555"/>
<rect x="386.73" y="156.26" width="1.5" height="1.1" fill="#555"/>
<rect x="386.73" y="160.11" width="1.5" height="1.1" fill="#555"/>
<rect x="386.73" y="163.96" width="1.5" height="1.1" fill="#555"/>
<rect x="386.73" y="167.81" width="1.5" height="1.1" fill="#555"/>
<rect x="386.73" y="171.66" width="1.5" height="1.1" fill="#555"/>
<rect x="386.73" y="175.51" width="1.5" height="1.1" fill="#555"/>
<rect x="386.73" y="179.36" width="1.5" height="1.1" fill="#555"/>
<rect x="386.73" y="183.21" width="1.5" height="1.1" fill="#555"/>
<rect x="386.73" y="187.06" width="1.5" height="1.1" fill="#555"/>
<rect x="386.73" y="190.91" width="1.5" height="1.1" fill="#555"/>
<rect x="386.73" y="194.76" width="1.5" height="1.1" fill="#555"/>
<rect x="386.73" y="198.61" width="1.5" height="1.1" fill="#555"/>
<rect x="386.73" y="202.46" width="1.5" height="1.1" fill="#555"/>
<rect x="386.73" y="206.31" width="1.5" height="1.1" fill="#555"/>
<rect x="386.73" y="210.16" width="1.5" height="1.1" fill="#555"/>
<rect x="386.73" y="214.01" width="1.5" height="1.1" fill="#555"/>
<rect x="386.73" y="217.86" width="1.5" height="1.1" fill="#555"/>
<rect x="386.73" y="221.71" width="1.5" height="1.1" fill="#555"/>
<rect x="386.73" y="225.56" width="1.5" height="1.1" fill="#555"/>
<rect x="386.73" y="229.41" width="1.5" height="1.1" fill="#555"/>
<rect x="404.41" y="127.52" width="1.5" height="1.1" fill="#555"/>
<rect x="404.41" y="131.37" width="1.5" height="1.1" fill="#555"/>
<rect x="404.41" y="135.22" width="1.5" height="1.1" fill="#555"/>
<rect x="404.41" y="139.07" width="1.5" height="1.1" fill="#555"/>
<rect x="404.41" y="142.92" width="1.5" height="1.1" fill="#555"/>
<rect x="404.41" y="146.77" width="1.5" height="1.1" fill="#555"/>
<rect x="404.41" y="150.62" width="1.5" height="1.1" fill="#555"/>
<rect x="404.41" y="154.47" width="1.5" height="1.1" fill="#555"/>
<rect x="404.41" y="158.32" width="1.5" height="1.1" fill="#555"/>
<rect x="404.41" y="162.17" width="1.5" height="1.1" fill="#555"/>
<rect x="404.41" y="166.02" width="1.5" height="1.1" fill="#555"/>
<rect x="404.41" y="169.87" width="1.5" height="1.1" fill="#555"/>
<rect x="404.41" y="173.72" width="1.5" height="1.1" fill="#555"/>
<rect x="404.41" y="177.57" width="1.5" height="1.1" fill="#555"/>
<rect x="404.41" y="181.42" width="1.5" height="1.1" fill="#555"/>
<rect x="404.41" y="185.27" width="1.5" height="1.1" fill="#555"/>
<rect x="404.41" y="189.12" width="1.5" height="1.1" fill="#555"/>
<rect x="404.41" y="192.97" width="1.5" height="1.1" fill="#555"/>
<rect x="404.41" y="196.82" width="1.5" height="1.1" fill="#555"/>
<rect x="404.41" y="200.67" width="1.5" height="1.1" fill="#555"/>
<rect x="404.41" y="204.52" width="1.5" height="1.1" fill="#555"/>
<rect x="404.41" y="208.37" width="1.5" height="1.1" fill="#555"/>
<rect x="404.41" y="212.22" width="1.5" height="1.1" fill="#555"/>
<rect x="404.41" y="216.07" width="1.5" height="1.1" fill="#555"/>
<rect x="404.41" y="219.92" width="1.5" height="1.1" fill="#555"/>
<rect x="404.41" y="223.77" width="1.5" height="1.1" fill="#555"/>
<rect x="404.41" y="227.62" width="1.5" height="1.1" fill="#555"/>
<rect x="422.09" y="119.95" width="1.5" height="1.1" fill="#555"/>
<rect x="422.09" y="123.80" width="1.5" height="1.1" fill="#555"/>
<rect x="422.09" y="127.65" width="1.5" height="1.1" fill="#555"/>
<rect x="422.09" y="131.50" width="1.5" height="1.1" fill="#555"/>
<rect x="422.09" y="135.35" width="1.5" height="1.1" fill="#555"/>
<rect x="422.09" y="139.20" width="1.5" height="1.1" fill="#555"/>
<rect x="422.09" y="143.05" width="1.5" height="1.1" fill="#555"/>
<rect x="422.09" y="146.90" width="1.5" height="1.1" fill="#555"/>
<rect x="422.09" y="150.75" width="1.5" height="1.1" fill="#555"/>
<rect x="422.09" y="154.60" width="1.5" height="1.1" fill="#555"/>
<rect x="422.09" y="158.45" width="1.5" height="1.1" fill="#555"/>
<rect x="422.09" y="162.30" width="1.5" height="1.1" fill="#555"/>
<rect x="422.09" y="166.15" width="1.5" height="1.1" fill="#555"/>
<rect x="422.09" y="170.00" width="1.5" height="1.1" fill="#555"/>
<rect x="422.09" y="173.85" width="1.5" height="1.1" fill="#555"/>
<rect x="422.09" y="177.70" width="1.5" height="1.1" fill="#555"/>
<rect x="422.09" y="181.55" width="1.5" height="1.1" fill="#555"/>
<rect x="422.09" y="185.40" width="1.5" height="1.1" fill="#555"/>
<rect x="422.09" y="189.25" width="1.5" height="1.1" fill="#555"/>
<rect x="422.09" y="193.10" width="1.5" height="1.1" fill="#555"/>
<rect x="422.09" y="196.95" width="1.5" height="1.1" fill="#555"/>
<rect x="422.09" y="200.80" width="1.5" height="1.1" fill="#555"/>
<rect x="422.09" y="204.65" width="1.5" height="1.1" fill="#555"/>
<rect x="422.09" y="208.50" width="1.5" height="1.1" fill="#555"/>
<rect x="422.09" y="212.35" width="1.5" height="1.1" fill="#555"/>
<rect x="422.09" y="216.20" width="1.5" height="1.1" fill="#555"/>
<rect x="422.09" y="220.05" width="1.5" height="1.1" fill="#555"/>
<rect x="422.09" y="223.90" width="1.5" height="1.1" fill="#555"/>
<rect x="422.09" y="227.75" width="1.5" height="1.1" fill="#555"/>
<rect x="439.77" y="115.57" width="1.5" height="1.1" fill="#555"/>
<rect x="439.77" y="119.42" width="1.5" height="1.1" fill="#555"/>
<rect x="439.77" y="123.27" width="1.5" height="1.1" fill="#555"/>
<rect x="439.77" y="127.12" width="1.5" height="1.1" fill="#555"/>
<rect x="439.77" y="130.97" width="1.5" height="1.1" fill="#555"/>
<rect x="439.77" y="134.82" width="1.5" height="1.1" fill="#555"/>
<rect x="439.77" y="138.67" width="1.5" height="1.1" fill="#555"/>
<rect x="439.77" y="142.52" width="1.5" height="1.1" fill="#555"/>
<rect x="439.77" y="146.37" width="1.5" height="1.1" fill="#555"/>
<rect x="439.77" y="150.22" width="1.5" height="1.1" fill="#555"/>
<rect x="439.77" y="154.07" width="1.5" height="1.1" fill="#555"/>
<rect x="439.77" y="157.92" width="1.5" height="1.1" fill="#555"/>
<rect x="439.77" y="161.77" width="1.5" height="1.1" fill="#555"/>
<rect x="439.77" y="165.62" width="1.5" height="1.1" fill="#555"/>
<rect x="439.77" y="169.47" width="1.5" height="1.1" fill="#555"/>
<rect x="439.77" y="173.32" width="1.5" height="1.1" fill="#555"/>
<rect x="439.77" y="177.17" width="1.5" height="1.1" fill="#555"/>
<rect x="439.77" y="181.02" width="1.5" height="1.1" fill="#555"/>
<rect x="439.77" y="184.87" width="1.5" height="1.1" fill="#555"/>
<rect x="439.77" y="188.72" width="1.5" height="1.1" fill="#555"/>
<rect x="439.77" y="192.57" width="1.5" height="1.1" fill="#555"/>
<rect x="439.77" y="196.42" width="1.5" height="1.1" fill="#555"/>
<rect x="439.77" y="200.27" width="1.5" height="1.1" fill="#555"/>
<rect x="439.77" y="204.12" width="1.5" height="1.1" fill="#555"/>
<rect x="439.77" y="207.97" width="1.5" height="1.1" fill="#555"/>
<rect x="439.77" y="211.82" width="1.5" height="1.1" fill="#555"/>
<rect x="439.77" y="215.67" width="1.5" height="1.1" fill="#555"/>
<rect x="439.77" y="219.52" width="1.5" height="1.1" fill="#555"/>
<rect x="439.77" y="223.37" width="1.5" height="1.1" fill="#555"/>
<rect x="439.77" y="227.22" width="1.5" height="1.1" fill="#555"/>
<rect x="439.77" y="231.07" width="1.5" height="1.1" fill="#555"/>
<rect x="457.45" y="119.95" width="1.5" height="1.1" fill="#555"/>
<rect x="457.45" y="123.80" width="1.5" height="1.1" fill="#555"/>
<rect x="457.45" y="127.65" width="1.5" height="1.1" fill="#555"/>
<rect x="457.45" y="131.50" width="1.5" height="1.1" fill="#555"/>
<rect x="457.45" y="135.35" width="1.5" height="1.1" fill="#555"/>
<rect x="457.45" y="139.20" width="1.5" height="1.1" fill="#555"/>
<rect x="457.45" y="143.05" width="1.5" height="1.1" fill="#555"/>
<rect x="457.45" y="146.90" width="1.5" height="1.1" fill="#555"/>
<rect x="457.45" y="150.75" width="1.5" height="1.1" fill="#555"/>
<rect x="457.45" y="154.60" width="1.5" height="1.1" fill="#555"/>
<rect x="457.45" y="158.45" width="1.5" height="1.1" fill="#555"/>
<rect x="457.45" y="162.30" width="1.5" height="1.1" fill="#555"/>
<rect x="457.45" y="166.15" width="1.5" height="1.1" fill="#555"/>
<rect x="457.45" y="170.00" width="1.5" height="1.1" fill="#555"/>
<rect x="457.45" y="173.85" width="1.5" height="1.1" fill="#555"/>
<rect x="457.45" y="177.70" width="1.5" height="1.1" fill="#555"/>
<rect x="457.45" y="181.55" width="1.5" height="1.1" fill="#555"/>
<rect x="457.45" y="185.40" width="1.5" height="1.1" fill="#555"/>
<rect x="457.45" y="189.25" width="1.5" height="1.1" fill="#555"/>
<rect x="457.45" y="193.10" width="1.5" height="1.1" fill="#555"/>
<rect x="457.45" y="196.95" width="1.5" height="1.1" fill="#555"/>
<rect x="457.45" y="200.80" width="1.5" height="1.1" fill="#555"/>
<rect x="457.45" y="204.65" width="1.5" height="1.1" fill="#555"/>
<rect x="457.45" y="208.50" width="1.5" height="1.1" fill="#555"/>
<rect x="457.45" y="212.35" width="1.5" height="1.1" fill="#555"/>
<rect x="457.45" y="216.20" width="1.5" height="1.1" fill="#555"/>
<rect x="457.45" y="220.05" width="1.5" height="1.1" fill="#555"/>
<rect x="457.45" y="223.90" width="1.5" height="1.1" fill="#555"/>
<rect x="457.45" y="227.75" width="1.5" height="1.1" fill="#555"/>
<rect x="475.13" y="115.57" width="1.5" height="1.1" fill="#555"/>
<rect x="475.13" y="119.42" width="1.5" height="1.1" fill="#555"/>
<rect x="475.13" y="123.27" width="1.5" height="1.1" fill="#555"/>
<rect x="475.13" y="127.12" width="1.5" height="1.1" fill="#555"/>
<rect x="475.13" y="130.97" width="1.5" height="1.1" fill="#555"/>
<rect x="475.13" y="134.82" width="1.5" height="1.1" fill="#555"/>
<rect x="475.13" y="138.67" width="1.5" height="1.1" fill="#555"/>
<rect x="475.13" y="142.52" width="1.5" height="1.1" fill="#555"/>
<rect x="475.13" y="146.37" width="1.5" height="1.1" fill="#555"/>
<rect x="475.13" y="150.22" width="1.5" height="1.1" fill="#555"/>
<rect x="475.13" y="154.07" width="1.5" height="1.1" fill="#555"/>
<rect x="475.13" y="157.92" width="1.5" height="1.1" fill="#555"/>
<rect x="475.13" y="161.77" width="1.5" height="1.1" fill="#555"/>
<rect x="475.13" y="165.62" width="1.5" height="1.1" fill="#555"/>
<rect x="475.13" y="169.47" width="1.5" height="1.1" fill="#555"/>
<rect x="475.13" y="173.32" width="1.5" height="1.1" fill="#555"/>
<rect x="475.13" y="177.17" width="1.5" height="1.1" fill="#555"/>
<rect x="475.13" y="181.02" width="1.5" height="1.1" fill="#555"/>
<rect x="475.13" y="184.87" width="1.5" height="1.1" fill="#555"/>
<rect x="475.13" y="188.72" width="1.5" height="1.1" fill="#555"/>
<rect x="475.13" y="192.57" width="1.5" height="1.1" fill="#555"/>
<rect x="475.13" y="196.42" width="1.5" height="1.1" fill="#555"/>
<rect x="475.13" y="200.27" width="1.5" height="1.1" fill="#555"/>
<rect x="475.13" y="204.12" width="1.5" height="1.1" fill="#555"/>
<rect x="475.13" y="207.97" width="1.5" height="1.1" fill="#555"/>
<rect x="475.13" y="211.82" width="1.5" height="1.1" fill="#555"/>
<rect x="475.13" y="215.67" width="1.5" height="1.1" fill="#555"/>
<rect x="475.13" y="219.52" width="1.5" height="1.1" fill="#555"/>
<rect x="475.13" y="223.37" width="1.5" height="1.1" fill="#555"/>
<rect x="475.13" y="227.22" width="1.5" height="1.1" fill="#555"/>
<rect x="475.13" y="231.07" width="1.5" height="1.1" fill="#555"/>
<line x1="63.0" y1="232.8" x2="487.32" y2="232.8" stroke="#d0d0d0" stroke-width="1"/>
<line x1="63.00" y1="232.8" x2="63.00" y2="235.60000000000002" stroke="#dedede" stroke-width="0.9"/>
<line x1="80.68" y1="232.8" x2="80.68" y2="235.60000000000002" stroke="#dedede" stroke-width="0.9"/>
<line x1="98.36" y1="232.8" x2="98.36" y2="235.60000000000002" stroke="#dedede" stroke-width="0.9"/>
<line x1="116.04" y1="232.8" x2="116.04" y2="235.60000000000002" stroke="#dedede" stroke-width="0.9"/>
<line x1="133.72" y1="232.8" x2="133.72" y2="235.60000000000002" stroke="#dedede" stroke-width="0.9"/>
<line x1="151.40" y1="232.8" x2="151.40" y2="235.60000000000002" stroke="#dedede" stroke-width="0.9"/>
<line x1="169.08" y1="232.8" x2="169.08" y2="235.60000000000002" stroke="#dedede" stroke-width="0.9"/>
<line x1="186.76" y1="232.8" x2="186.76" y2="235.60000000000002" stroke="#dedede" stroke-width="0.9"/>
<line x1="204.44" y1="232.8" x2="204.44" y2="235.60000000000002" stroke="#dedede" stroke-width="0.9"/>
<line x1="222.12" y1="232.8" x2="222.12" y2="235.60000000000002" stroke="#dedede" stroke-width="0.9"/>
<line x1="239.80" y1="232.8" x2="239.80" y2="235.60000000000002" stroke="#dedede" stroke-width="0.9"/>
<line x1="257.48" y1="232.8" x2="257.48" y2="235.60000000000002" stroke="#dedede" stroke-width="0.9"/>
<line x1="275.16" y1="232.8" x2="275.16" y2="235.60000000000002" stroke="#dedede" stroke-width="0.9"/>
<line x1="292.84" y1="232.8" x2="292.84" y2="235.60000000000002" stroke="#dedede" stroke-width="0.9"/>
<line x1="310.52" y1="232.8" x2="310.52" y2="235.60000000000002" stroke="#dedede" stroke-width="0.9"/>
<line x1="328.20" y1="232.8" x2="328.20" y2="235.60000000000002" stroke="#dedede" stroke-width="0.9"/>
<line x1="345.88" y1="232.8" x2="345.88" y2="235.60000000000002" stroke="#dedede" stroke-width="0.9"/>
<line x1="363.56" y1="232.8" x2="363.56" y2="235.60000000000002" stroke="#dedede" stroke-width="0.9"/>
<line x1="381.24" y1="232.8" x2="381.24" y2="235.60000000000002" stroke="#dedede" stroke-width="0.9"/>
<line x1="398.92" y1="232.8" x2="398.92" y2="235.60000000000002" stroke="#dedede" stroke-width="0.9"/>
<line x1="416.60" y1="232.8" x2="416.60" y2="235.60000000000002" stroke="#dedede" stroke-width="0.9"/>
<line x1="434.28" y1="232.8" x2="434.28" y2="235.60000000000002" stroke="#dedede" stroke-width="0.9"/>
<line x1="451.96" y1="232.8" x2="451.96" y2="235.60000000000002" stroke="#dedede" stroke-width="0.9"/>
<line x1="469.64" y1="232.8" x2="469.64" y2="235.60000000000002" stroke="#dedede" stroke-width="0.9"/>
<line x1="487.32" y1="232.8" x2="487.32" y2="235.60000000000002" stroke="#dedede" stroke-width="0.9"/>
<polyline points="71.84,228.93 89.52,222.37 107.20,227.92 124.88,228.59 142.56,228.93 160.24,229.44 177.92,230.45 195.60,230.61 213.28,231.45 230.96,231.45 248.64,231.45 266.32,231.45 284.00,231.96 301.68,231.12 319.36,227.08 337.04,226.58 354.72,226.07 372.40,223.55 390.08,221.87 407.76,224.22 425.44,225.23 443.12,226.91 460.80,225.74 478.48,225.23" fill="none" stroke="#AD1E1E" stroke-width="2.4" stroke-dasharray="6.6 2.6" stroke-linejoin="round"/>
<polyline points="71.84,215.98 89.52,215.98 107.20,165.52 124.88,131.88 142.56,131.88 160.24,148.70 177.92,165.52 195.60,165.52 213.28,148.70 230.96,131.88 248.64,81.42 266.32,115.06 284.00,81.42 301.68,81.42 319.36,115.06 337.04,131.88 354.72,115.06 372.40,98.24 390.08,81.42 407.76,98.24 425.44,131.88 443.12,182.34 460.80,165.52 478.48,165.52" fill="none" stroke="#9BBB59" stroke-width="2.25" stroke-linejoin="round"/>
<circle cx="71.84" cy="215.98" r="3.3" fill="#4F6228" stroke="#8CB04A" stroke-width="1.1"/>
<circle cx="89.52" cy="215.98" r="3.3" fill="#4F6228" stroke="#8CB04A" stroke-width="1.1"/>
<circle cx="107.20" cy="165.52" r="3.3" fill="#4F6228" stroke="#8CB04A" stroke-width="1.1"/>
<circle cx="124.88" cy="131.88" r="3.3" fill="#4F6228" stroke="#8CB04A" stroke-width="1.1"/>
<circle cx="142.56" cy="131.88" r="3.3" fill="#4F6228" stroke="#8CB04A" stroke-width="1.1"/>
<circle cx="160.24" cy="148.70" r="3.3" fill="#4F6228" stroke="#8CB04A" stroke-width="1.1"/>
<circle cx="177.92" cy="165.52" r="3.3" fill="#4F6228" stroke="#8CB04A" stroke-width="1.1"/>
<circle cx="195.60" cy="165.52" r="3.3" fill="#4F6228" stroke="#8CB04A" stroke-width="1.1"/>
<circle cx="213.28" cy="148.70" r="3.3" fill="#4F6228" stroke="#8CB04A" stroke-width="1.1"/>
<circle cx="230.96" cy="131.88" r="3.3" fill="#4F6228" stroke="#8CB04A" stroke-width="1.1"/>
<circle cx="248.64" cy="81.42" r="3.3" fill="#4F6228" stroke="#8CB04A" stroke-width="1.1"/>
<circle cx="266.32" cy="115.06" r="3.3" fill="#4F6228" stroke="#8CB04A" stroke-width="1.1"/>
<circle cx="284.00" cy="81.42" r="3.3" fill="#4F6228" stroke="#8CB04A" stroke-width="1.1"/>
<circle cx="301.68" cy="81.42" r="3.3" fill="#4F6228" stroke="#8CB04A" stroke-width="1.1"/>
<circle cx="319.36" cy="115.06" r="3.3" fill="#4F6228" stroke="#8CB04A" stroke-width="1.1"/>
<circle cx="337.04" cy="131.88" r="3.3" fill="#4F6228" stroke="#8CB04A" stroke-width="1.1"/>
<circle cx="354.72" cy="115.06" r="3.3" fill="#4F6228" stroke="#8CB04A" stroke-width="1.1"/>
<circle cx="372.40" cy="98.24" r="3.3" fill="#4F6228" stroke="#8CB04A" stroke-width="1.1"/>
<circle cx="390.08" cy="81.42" r="3.3" fill="#4F6228" stroke="#8CB04A" stroke-width="1.1"/>
<circle cx="407.76" cy="98.24" r="3.3" fill="#4F6228" stroke="#8CB04A" stroke-width="1.1"/>
<circle cx="425.44" cy="131.88" r="3.3" fill="#4F6228" stroke="#8CB04A" stroke-width="1.1"/>
<circle cx="443.12" cy="182.34" r="3.3" fill="#4F6228" stroke="#8CB04A" stroke-width="1.1"/>
<circle cx="460.80" cy="165.52" r="3.3" fill="#4F6228" stroke="#8CB04A" stroke-width="1.1"/>
<circle cx="478.48" cy="165.52" r="3.3" fill="#4F6228" stroke="#8CB04A" stroke-width="1.1"/>
<text x="50.5" y="237.10" text-anchor="end" font-size="11.9" fill="#595959">20</text>
<text x="50.5" y="220.28" text-anchor="end" font-size="11.9" fill="#595959">21</text>
<text x="50.5" y="203.46" text-anchor="end" font-size="11.9" fill="#595959">22</text>
<text x="50.5" y="186.64" text-anchor="end" font-size="11.9" fill="#595959">23</text>
<text x="50.5" y="169.82" text-anchor="end" font-size="11.9" fill="#595959">24</text>
<text x="50.5" y="153.00" text-anchor="end" font-size="11.9" fill="#595959">25</text>
<text x="50.5" y="136.18" text-anchor="end" font-size="11.9" fill="#595959">26</text>
<text x="50.5" y="119.36" text-anchor="end" font-size="11.9" fill="#595959">27</text>
<text x="50.5" y="102.54" text-anchor="end" font-size="11.9" fill="#595959">28</text>
<text x="50.5" y="85.72" text-anchor="end" font-size="11.9" fill="#595959">29</text>
<text x="50.5" y="68.90" text-anchor="end" font-size="11.9" fill="#595959">30</text>
<text x="499.1" y="237.10" font-size="11.9" fill="#595959">0</text>
<text x="499.1" y="220.28" font-size="11.9" fill="#595959">1</text>
<text x="499.1" y="203.46" font-size="11.9" fill="#595959">2</text>
<text x="499.1" y="186.64" font-size="11.9" fill="#595959">3</text>
<text x="499.1" y="169.82" font-size="11.9" fill="#595959">4</text>
<text x="499.1" y="153.00" font-size="11.9" fill="#595959">5</text>
<text x="499.1" y="136.18" font-size="11.9" fill="#595959">6</text>
<text x="499.1" y="119.36" font-size="11.9" fill="#595959">7</text>
<text x="499.1" y="102.54" font-size="11.9" fill="#595959">8</text>
<text x="499.1" y="85.72" font-size="11.9" fill="#595959">9</text>
<text x="499.1" y="68.90" font-size="11.9" fill="#595959">10</text>
<text transform="translate(74.04,245.30) rotate(-45)" text-anchor="end" font-size="8.3" fill="#4a4a4a" stroke="#4a4a4a" stroke-width="0.3">0000</text>
<text transform="translate(91.72,245.30) rotate(-45)" text-anchor="end" font-size="8.3" fill="#4a4a4a" stroke="#4a4a4a" stroke-width="0.3">0100</text>
<text transform="translate(109.40,245.30) rotate(-45)" text-anchor="end" font-size="8.3" fill="#4a4a4a" stroke="#4a4a4a" stroke-width="0.3">0200</text>
<text transform="translate(127.08,245.30) rotate(-45)" text-anchor="end" font-size="8.3" fill="#4a4a4a" stroke="#4a4a4a" stroke-width="0.3">0300</text>
<text transform="translate(144.76,245.30) rotate(-45)" text-anchor="end" font-size="8.3" fill="#4a4a4a" stroke="#4a4a4a" stroke-width="0.3">0400</text>
<text transform="translate(162.44,245.30) rotate(-45)" text-anchor="end" font-size="8.3" fill="#4a4a4a" stroke="#4a4a4a" stroke-width="0.3">0500</text>
<text transform="translate(180.12,245.30) rotate(-45)" text-anchor="end" font-size="8.3" fill="#4a4a4a" stroke="#4a4a4a" stroke-width="0.3">0600</text>
<text transform="translate(197.80,245.30) rotate(-45)" text-anchor="end" font-size="8.3" fill="#4a4a4a" stroke="#4a4a4a" stroke-width="0.3">0700</text>
<text transform="translate(215.48,245.30) rotate(-45)" text-anchor="end" font-size="8.3" fill="#4a4a4a" stroke="#4a4a4a" stroke-width="0.3">0800</text>
<text transform="translate(233.16,245.30) rotate(-45)" text-anchor="end" font-size="8.3" fill="#4a4a4a" stroke="#4a4a4a" stroke-width="0.3">0900</text>
<text transform="translate(250.84,245.30) rotate(-45)" text-anchor="end" font-size="8.3" fill="#4a4a4a" stroke="#4a4a4a" stroke-width="0.3">1000</text>
<text transform="translate(268.52,245.30) rotate(-45)" text-anchor="end" font-size="8.3" fill="#4a4a4a" stroke="#4a4a4a" stroke-width="0.3">1100</text>
<text transform="translate(286.20,245.30) rotate(-45)" text-anchor="end" font-size="8.3" fill="#4a4a4a" stroke="#4a4a4a" stroke-width="0.3">1200</text>
<text transform="translate(303.88,245.30) rotate(-45)" text-anchor="end" font-size="8.3" fill="#4a4a4a" stroke="#4a4a4a" stroke-width="0.3">1300</text>
<text transform="translate(321.56,245.30) rotate(-45)" text-anchor="end" font-size="8.3" fill="#4a4a4a" stroke="#4a4a4a" stroke-width="0.3">1400</text>
<text transform="translate(339.24,245.30) rotate(-45)" text-anchor="end" font-size="8.3" fill="#4a4a4a" stroke="#4a4a4a" stroke-width="0.3">1500</text>
<text transform="translate(356.92,245.30) rotate(-45)" text-anchor="end" font-size="8.3" fill="#4a4a4a" stroke="#4a4a4a" stroke-width="0.3">1600</text>
<text transform="translate(374.60,245.30) rotate(-45)" text-anchor="end" font-size="8.3" fill="#4a4a4a" stroke="#4a4a4a" stroke-width="0.3">1700</text>
<text transform="translate(392.28,245.30) rotate(-45)" text-anchor="end" font-size="8.3" fill="#4a4a4a" stroke="#4a4a4a" stroke-width="0.3">1800</text>
<text transform="translate(409.96,245.30) rotate(-45)" text-anchor="end" font-size="8.3" fill="#4a4a4a" stroke="#4a4a4a" stroke-width="0.3">1900</text>
<text transform="translate(427.64,245.30) rotate(-45)" text-anchor="end" font-size="8.3" fill="#4a4a4a" stroke="#4a4a4a" stroke-width="0.3">2000</text>
<text transform="translate(445.32,245.30) rotate(-45)" text-anchor="end" font-size="8.3" fill="#4a4a4a" stroke="#4a4a4a" stroke-width="0.3">2100</text>
<text transform="translate(463.00,245.30) rotate(-45)" text-anchor="end" font-size="8.3" fill="#4a4a4a" stroke="#4a4a4a" stroke-width="0.3">2200</text>
<text transform="translate(480.68,245.30) rotate(-45)" text-anchor="end" font-size="8.3" fill="#4a4a4a" stroke="#4a4a4a" stroke-width="0.3">2300</text>
<text transform="translate(29.5,149) rotate(-90)" text-anchor="middle" font-size="9.75" fill="#595959">Air Temperature (ºC)</text>
<text transform="translate(527,149) rotate(-90)" text-anchor="middle" font-size="9.8" fill="#595959">Air Velocity (m/s)</text>
<text x="274.5" y="277.1" text-anchor="middle" font-size="12" fill="#595959">Time</text>
<rect x="63.9" y="304.8" width="32.7" height="5.1" fill="url(#plin)" stroke="#000" stroke-width="1.4"/>
<text x="101" y="311" font-size="9.7" fill="#595959">21-Dec-13 Indoor Air Temperature (°C)</text>
<rect x="280.3" y="304.7" width="32.9" height="5.1" fill="url(#plout)" stroke="#000" stroke-width="1.4"/>
<text x="317.5" y="311" font-size="9.7" fill="#595959">21-Dec-13 Outdoor Air Temperature (°C)</text>
<line x1="62.6" y1="327.8" x2="97" y2="327.8" stroke="#AD1E1E" stroke-width="2.3" stroke-dasharray="6.6 2.6"/>
<text x="101" y="330.6" font-size="9.8" fill="#595959">21-Dec-13 Indoor Air Velocity (m/s)</text>
<line x1="279.2" y1="327.7" x2="314.3" y2="327.7" stroke="#9BBB59" stroke-width="2"/>
<circle cx="296.8" cy="327.7" r="2.8" fill="#4F6228" stroke="#8CB04A" stroke-width="0.8"/>
<text x="317.5" y="330.6" font-size="9.8" fill="#595959">21-Dec-13 Outdoor Air Velocity (m/s)</text></svg>
</body></html>
